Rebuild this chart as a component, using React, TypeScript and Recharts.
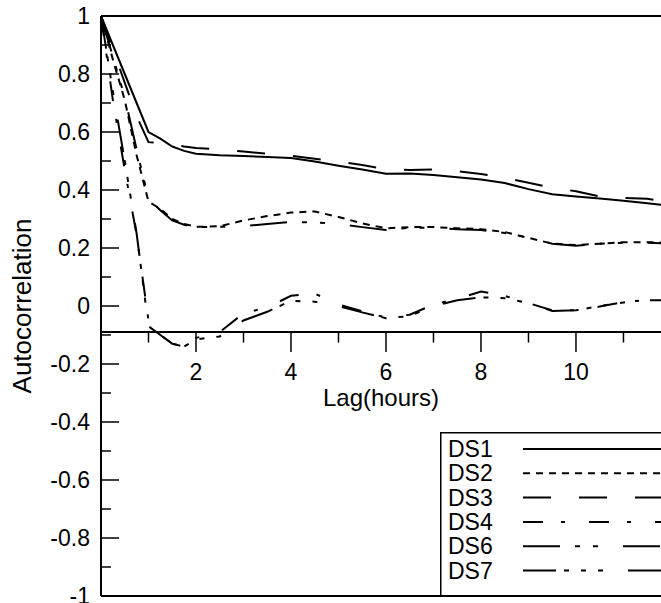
import React from 'react';
import { LineChart, Line, XAxis, YAxis, ReferenceLine, Legend } from 'recharts';

// lag values (hours)
const lags = [0, 0.25, 0.5, 0.75, 1, 1.25, 1.5, 1.75, 2, 2.5, 3, 3.5, 4, 4.5, 5, 5.5, 6, 6.5, 7, 7.5, 8, 8.5, 9, 9.5, 10, 10.5, 11, 11.5, 12];

const ds1 = [1, 0.9, 0.8, 0.7, 0.6, 0.577, 0.55, 0.535, 0.525, 0.52, 0.517, 0.514, 0.51, 0.498, 0.484, 0.471, 0.456, 0.457, 0.452, 0.444, 0.436, 0.424, 0.403, 0.385, 0.378, 0.371, 0.363, 0.354, 0.345];
const ds2 = [1, 0.85, 0.71, 0.52, 0.36, 0.335, 0.3, 0.283, 0.273, 0.275, 0.295, 0.31, 0.322, 0.326, 0.307, 0.285, 0.268, 0.272, 0.272, 0.268, 0.265, 0.255, 0.235, 0.215, 0.21, 0.215, 0.22, 0.22, 0.218];
const ds3 = [1, 0.885, 0.77, 0.655, 0.565, 0.562, 0.556, 0.55, 0.545, 0.54, 0.533, 0.525, 0.518, 0.508, 0.498, 0.486, 0.472, 0.469, 0.471, 0.465, 0.455, 0.442, 0.425, 0.407, 0.396, 0.378, 0.373, 0.37, 0.357];
const ds4 = [1, 0.71, 0.47, 0.245, -0.05, -0.1, -0.13, -0.14, -0.11, -0.09, -0.025, -0.005, 0.035, 0.043, 0.005, -0.018, -0.04, -0.03, 0.005, 0.025, 0.05, 0.035, 0.01, -0.015, -0.015, -0.002, 0.014, 0.02, 0.025];
const ds6 = [1, 0.86, 0.72, 0.54, 0.37, 0.33, 0.295, 0.28, 0.272, 0.273, 0.275, 0.283, 0.29, 0.288, 0.283, 0.272, 0.262, 0.27, 0.27, 0.265, 0.262, 0.252, 0.235, 0.215, 0.208, 0.215, 0.218, 0.218, 0.215];
const ds7 = [1, 0.74, 0.5, 0.25, -0.07, -0.1, -0.13, -0.14, -0.115, -0.105, -0.05, -0.02, 0.018, 0.015, 0, -0.022, -0.042, -0.035, 0, 0.02, 0.03, 0.027, 0.01, -0.017, -0.015, 0, 0.012, 0.02, 0.02];

const seriesNames = ['DS1', 'DS2', 'DS3', 'DS4', 'DS6', 'DS7'];
const seriesValues = [ds1, ds2, ds3, ds4, ds6, ds7];

const xMajorTicks = [2, 4, 6, 8, 10];
const xMinorTicks = [1, 3, 5, 7, 9, 11];
const yTicks = [-1, -0.8, -0.6, -0.4, -0.2, 0, 0.2, 0.4, 0.6, 0.8, 1];
const yTickLabels = ['-1', '-0.8', '-0.6', '-0.4', '-0.2', '0', '0.2', '0.4', '0.6', '0.8', '1'];
const yMinorTicks = [-0.9, -0.7, -0.5, -0.3, -0.1, 0.1, 0.3, 0.5, 0.7, 0.9];

// the horizontal axis crosses here
const AXIS_Y = -0.09;

// dash patterns, one per series
const dashes: Record<string, string | undefined> = {
  DS1: undefined,
  DS2: '7 6',
  DS3: '28 28',
  DS4: '20 18 4 24',
  DS6: '37 15 5 13 5 25',
  DS7: '33 8 5 12 5 12 5 25',
};

const data = lags.map((lag, i) => {
  const row: any = { lag };
  seriesNames.forEach((n, k) => (row[n] = seriesValues[k][i]));
  return row;
});

const FONT = '"Liberation Sans", Arial, sans-serif';

const LegendBox = () => (
  <svg width={221} height={164} style={{ display: 'block', fontFamily: FONT }}>
    <line x1={0.75} y1={0} x2={0.75} y2={164} stroke="#000" strokeWidth={1.5} />
    <line x1={0} y1={0.75} x2={221} y2={0.75} stroke="#000" strokeWidth={1.5} />
    {seriesNames.map((n, i) => {
      const cy = 17 + i * 24.3;
      return (
        <g key={n}>
          <text x={8} y={cy + 8} fontSize={23} fill="#000">{n}</text>
          <line x1={83} y1={cy} x2={221} y2={cy} stroke="#000" strokeWidth={2} strokeDasharray={dashes[n]} />
        </g>
      );
    })}
  </svg>
);

const App: React.FC = () => {
  return (
    <div style={{ position: 'absolute', left: 0, top: 0, background: '#fff' }}>
      <LineChart
        width={661}
        height={603}
        data={data}
        margin={{ top: 16, right: 0, bottom: 7, left: 0 }}
        style={{ fontFamily: FONT }}
      >
        <XAxis type="number" dataKey="lag" domain={[0, 11.79]} allowDataOverflow hide />
        <YAxis
          type="number"
          domain={[-1, 1]}
          ticks={yTicks}
          interval={0}
          tickFormatter={(v: number) => yTickLabels[yTicks.indexOf(v)] ?? String(v)}
          width={101}
          axisLine={{ stroke: '#000', strokeWidth: 2 }}
          tickLine={false}
          tickSize={6}
          tickMargin={5}
          tick={{ fill: '#000', fontSize: 23 }}
          label={{
            value: 'Autocorrelation',
            angle: -90,
            position: 'insideLeft',
            offset: 22,
            fill: '#000',
            fontSize: 26,
            style: { textAnchor: 'middle' },
          }}
        />

        {/* frame */}
        <ReferenceLine y={1} stroke="#000" strokeWidth={2} />
        <ReferenceLine y={-1} stroke="#000" strokeWidth={2} />

        {/* horizontal axis drawn at the crossing value */}
        <ReferenceLine
          y={AXIS_Y}
          stroke="#000"
          strokeWidth={2}
          label={{ value: 'Lag(hours)', position: 'bottom', offset: 57, fill: '#000', fontSize: 24 }}
        />
        {xMajorTicks.map((v) => (
          <ReferenceLine
            key={'xM' + v}
            segment={[{ x: v, y: AXIS_Y }, { x: v, y: AXIS_Y - 0.069 }]}
            stroke="#000"
            strokeWidth={1.5}
            label={{ value: String(v), position: 'bottom', offset: 12, fill: '#000', fontSize: 23 }}
          />
        ))}
        {xMinorTicks.map((v) => (
          <ReferenceLine
            key={'xm' + v}
            segment={[{ x: v, y: AXIS_Y }, { x: v, y: AXIS_Y - 0.036 }]}
            stroke="#000"
            strokeWidth={1.5}
          />
        ))}

        {/* inward y ticks */}
        {yTicks.map((v) => (
          <ReferenceLine
            key={'yM' + v}
            segment={[{ x: 0, y: v }, { x: 0.38, y: v }]}
            stroke="#000"
            strokeWidth={1.5}
          />
        ))}
        {yMinorTicks.map((v) => (
          <ReferenceLine
            key={'ym' + v}
            segment={[{ x: 0, y: v }, { x: 0.21, y: v }]}
            stroke="#000"
            strokeWidth={1.5}
          />
        ))}

        {seriesNames.map((n) => (
          <Line
            key={n}
            type="linear"
            dataKey={n}
            stroke="#000"
            strokeWidth={2}
            strokeDasharray={dashes[n]}
            dot={false}
            activeDot={false}
            isAnimationActive={false}
          />
        ))}

        <Legend
          layout="vertical"
          verticalAlign="middle"
          align="center"
          content={() => <LegendBox />}
          wrapperStyle={{ left: 440, top: 432, width: 221, height: 164 }}
        />
      </LineChart>
    </div>
  );
};

export default App;
